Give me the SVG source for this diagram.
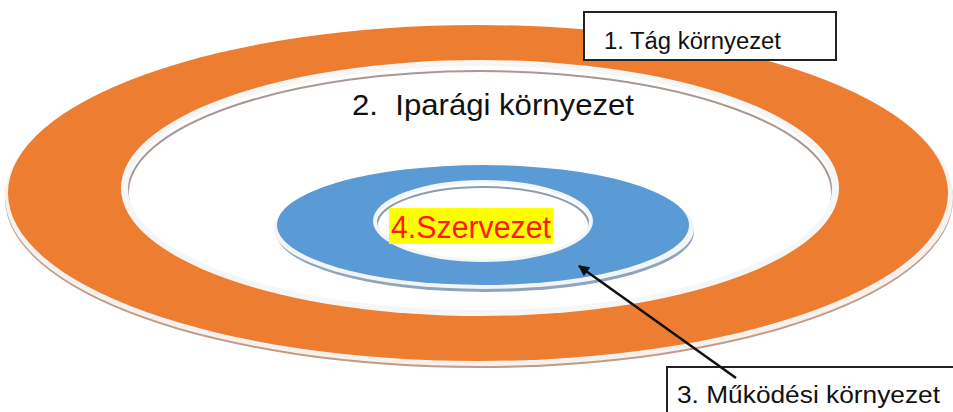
<svg xmlns="http://www.w3.org/2000/svg" width="953" height="412" viewBox="0 0 953 412">
  <defs>
    <style>
      .lbl { font-family: "Liberation Sans", Arial, sans-serif; fill: #111; }
      .box { fill: #fff; stroke: #222; stroke-width: 2; }
    </style>
    <marker id="ah" viewBox="0 0 10 10" refX="9" refY="5" markerWidth="13" markerHeight="11" orient="auto-start-reverse" markerUnits="userSpaceOnUse">
      <path d="M0,0 L10,5 L0,10 z" fill="#111"/>
    </marker>
    <clipPath id="holeClip"><ellipse cx="480" cy="188" rx="352" ry="122"/></clipPath>
    <clipPath id="blueHoleClip"><ellipse cx="483" cy="221" rx="106" ry="38"/></clipPath>
  </defs>
  <rect width="953" height="412" fill="#fff"/>

  <g id="tag-kornyezet">
    <ellipse cx="479" cy="199" rx="474" ry="169" fill="#c49a84"/>
    <ellipse cx="479" cy="197" rx="474" ry="169" fill="#f4f1ee"/>
    <ellipse cx="478" cy="193" rx="470" ry="168" fill="#ed7d31"/>
  </g>

  <g id="iparagi-kornyezet">
    <ellipse cx="480" cy="188" rx="359" ry="128" fill="#f6f6f6"/>
    <ellipse cx="480" cy="188" rx="352" ry="122" fill="#fff"/>
    <g clip-path="url(#holeClip)">
      <ellipse cx="480" cy="193" rx="352" ry="122" fill="none" stroke="#a89a92" stroke-width="2"/>
    </g>
    <text class="lbl" x="352" y="115" font-size="30" xml:space="preserve" textLength="282" lengthAdjust="spacingAndGlyphs">2.  Iparági környezet</text>
  </g>

  <g id="mukodesi-kornyezet">
    <ellipse cx="485" cy="232" rx="209" ry="60" fill="#8da6bd"/>
    <ellipse cx="484" cy="229" rx="210" ry="60" fill="#f2f4f6"/>
    <ellipse cx="483" cy="225" rx="206" ry="60" fill="#5b9bd5"/>
    <ellipse cx="483" cy="221" rx="110" ry="41" fill="#f3f5f7"/>
    <ellipse cx="483" cy="221" rx="106" ry="38" fill="#fff"/>
    <g clip-path="url(#blueHoleClip)">
      <ellipse cx="483" cy="225" rx="106" ry="38" fill="none" stroke="#8d9eae" stroke-width="2"/>
    </g>
  </g>

  <g id="szervezet">
    <rect x="389" y="208" width="164" height="36" fill="#ffff00"/>
    <text x="391" y="238" font-size="31" fill="#ff1a1a" font-family="Liberation Sans, Arial, sans-serif" textLength="160" lengthAdjust="spacingAndGlyphs">4.Szervezet</text>
  </g>

  <g id="label-1">
    <rect class="box" x="584" y="12" width="252" height="48"/>
    <text class="lbl" x="604" y="49" font-size="23" textLength="177" lengthAdjust="spacingAndGlyphs">1. Tág környezet</text>
  </g>

  <g id="label-3">
    <rect class="box" x="667" y="367" width="300" height="60"/>
    <text class="lbl" x="677" y="403" font-size="23" textLength="263" lengthAdjust="spacingAndGlyphs">3. Működési környezet</text>
  </g>

  <g id="connectors">
    <line x1="736" y1="378" x2="579" y2="266" stroke="#111" stroke-width="2.5" marker-end="url(#ah)"/>
  </g>
</svg>
